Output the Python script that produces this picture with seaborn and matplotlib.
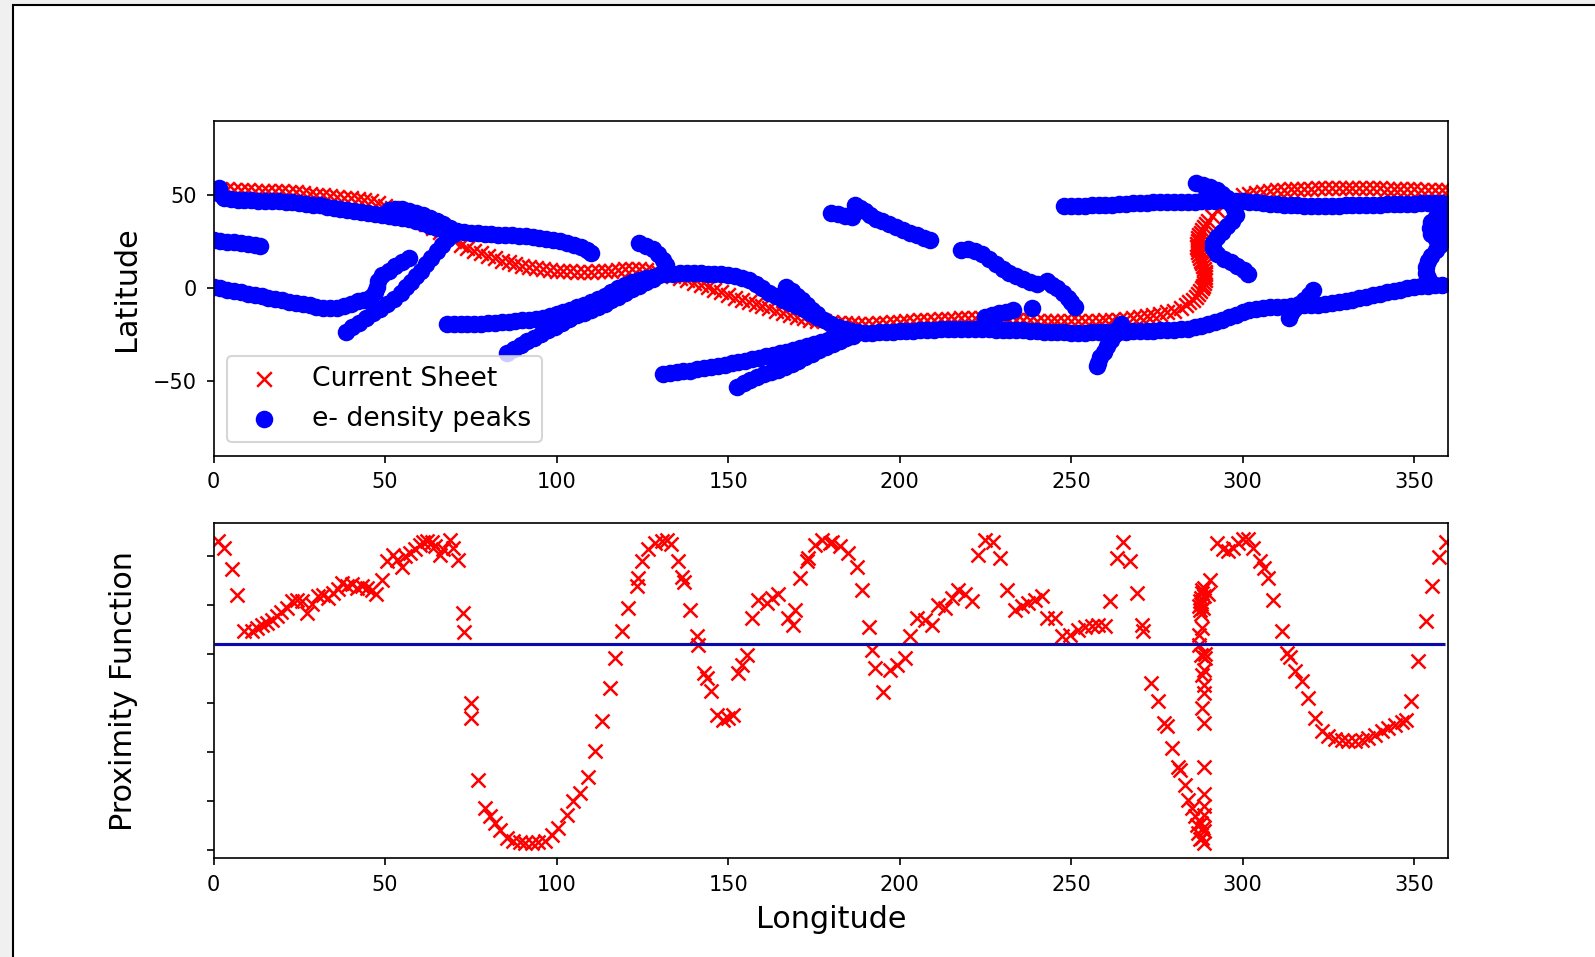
import matplotlib
matplotlib.use("Agg")
import matplotlib.pyplot as plt
from matplotlib.patches import Rectangle
import seaborn as sns
import pandas as pd

# current sheet (lon, lat)
current_sheet = [
    (0, 53), (2, 53.2), (4, 53.2), (6, 53), (8, 52.8), (10, 52.7), (12, 52.6), (14, 52.5), (16, 52.4), (18, 52.3),
    (20, 52.2), (22, 52), (24, 51.7), (26, 51.4), (28, 51), (30, 50.5), (32, 50), (34, 49.6), (36, 49.2), (38, 48.8),
    (40, 48.4), (42, 48), (44, 47.6), (46, 46.8), (48, 45.8), (50, 44.5), (52, 43), (54, 41.5), (56, 40), (58, 38.3),
    (60, 36.5), (62, 34.5), (64, 32.5), (66, 30.3), (68, 28), (70, 25.5), (72, 23.5), (74, 21.8), (76, 20.2), (78, 18.8),
    (80, 17.5), (82, 16.2), (84, 15), (86, 14), (88, 13), (90, 12.2), (92, 11.5), (94, 11), (96, 10.5), (98, 10),
    (100, 9.6), (102, 9.3), (104, 9.1), (106, 9), (108, 9), (110, 9), (112, 9.2), (114, 9.4), (116, 9.6), (118, 9.9),
    (120, 10.2), (122, 10.5), (124, 10.3), (126, 9.8), (128, 9.2), (130, 8.4), (132, 7.6), (134, 6.6), (136, 5.5), (138, 4.3),
    (140, 3), (142, 1.8), (144, 0.5), (146, -0.8), (148, -2.2), (150, -3.6), (152, -5), (154, -6.3), (156, -7.5), (158, -8.6),
    (160, -9.7), (162, -10.8), (164, -12), (166, -13.1), (168, -14.2), (170, -15.2), (172, -16), (174, -16.8), (176, -17.4), (178, -17.8),
    (180, -18.1), (182, -18.4), (184, -18.6), (186, -18.8), (188, -19), (190, -19), (192, -19), (194, -18.8), (196, -18.5), (198, -18.2),
    (200, -17.9), (202, -17.6), (204, -17.4), (206, -17.2), (208, -17), (210, -16.8), (212, -16.6), (214, -16.4), (216, -16.2), (218, -16),
    (220, -16), (222, -16), (224, -16), (226, -16.2), (228, -16.4), (230, -16.6), (232, -16.8), (234, -17), (236, -17.1), (238, -17.2),
    (240, -17.3), (242, -17.4), (244, -17.5), (246, -17.6), (248, -17.6), (250, -17.6), (252, -17.6), (254, -17.5), (256, -17.4), (258, -17.3),
    (260, -17.2), (262, -17), (264, -16.8), (266, -16.5), (268, -16.1), (270, -15.6), (272, -15), (274, -14.4), (276, -13.7), (278, -12.9),
    (280, -11.9), (282, -10.6),
    (283.5, -9), (284.5, -7.5), (285.5, -6), (286.3, -4.5), (287, -3), (287.6, -1.5), (288.1, 0), (288.5, 1.5), (288.8, 3),
    (289, 4.5), (289.1, 6), (289.1, 7.5), (289, 9), (288.8, 10.5), (288.5, 12), (288.2, 13.5), (287.8, 15), (287.5, 16.5),
    (287.2, 18), (287, 19.5), (286.9, 21), (286.8, 22.5), (286.8, 24), (286.9, 25.5), (287.1, 27), (287.4, 28.5), (287.8, 30),
    (288.3, 31.5), (288.8, 33), (289.4, 34.5), (290, 36), (291, 39), (292.5, 42), (294.5, 45), (297, 47.5),
    (300, 50), (302, 50.8), (304, 51.4), (306, 51.9), (308, 52.3), (310, 52.7), (312, 53), (314, 53.2), (316, 53.4), (318, 53.6),
    (320, 53.7), (322, 53.8), (324, 53.9), (326, 54), (328, 54), (330, 54), (332, 54), (334, 54), (336, 54), (338, 53.9),
    (340, 53.8), (342, 53.7), (344, 53.6), (346, 53.4), (348, 53.3), (350, 53.2), (352, 53.1), (354, 53), (356, 53), (358, 53), (360, 53),
]

# e- density peak tracks (lon, lat)
track_a = [(1.5, 54), (2, 51), (3, 48.5), (5, 48), (7, 47.8), (9, 47.6), (11, 47.4), (13, 47.2), (15, 47.1), (17, 47),
           (19, 47), (21, 46.6), (23, 46.2), (25, 45.8), (27, 45.4), (29, 45.1), (31, 44.6), (33, 44), (35, 43.4), (37, 42.8),
           (39, 42.2), (41, 41.6), (43, 41), (45, 40.5), (47, 40), (49, 39.6), (51, 39.2), (53, 38.6), (55, 38), (57, 37.2),
           (59, 36.2), (61, 35), (63, 33.8), (65, 32.6), (67, 31.7), (69, 31), (71, 30.6), (73, 30.3), (75, 30), (77, 29.7),
           (79, 29.4), (81, 29.1), (83, 28.9), (85, 28.7), (87, 28.5), (89, 28.3), (91, 28.1), (93, 27.8), (95, 27.3), (97, 26.7),
           (99, 26), (101, 25.3), (103, 24.5), (105, 23.5), (107, 22.3), (109, 20.5), (110, 19)]
track_b = [(0, 26), (2, 25.6), (4, 25.2), (6, 24.8), (8, 24.4), (10, 24), (12, 23.5), (13.5, 23)]
track_c = [(0, 1), (2, 0.2), (4, -0.6), (6, -1.4), (8, -2.2), (10, -2.9), (12, -3.6), (14, -4.3), (16, -5), (18, -5.7),
           (20, -6.4), (22, -7.1), (24, -7.8), (26, -8.5), (28, -9.2), (30, -9.8), (32, -10.4), (34, -10.8), (36, -10.4),
           (38, -9.4), (40, -8.2), (42, -7), (44, -6), (46, -4.5), (47, -2), (47.5, 1), (48, 4), (49, 7), (51, 9.5),
           (53, 12), (55, 14.2), (57, 16.2)]
track_d = [(38.5, -23.5), (40.5, -21), (42.5, -18.5), (44.5, -16), (46.5, -13.5), (48.5, -11), (50.5, -8.5), (52.5, -5.5),
           (54.5, -2.5), (56, 0.5), (57.5, 3.5), (59, 6.5), (60.5, 9.5), (62, 13), (63.5, 16.5), (65, 20), (66.5, 23.5),
           (68, 26.5), (70, 29)]
track_e = [(51, 42), (53, 42.5), (55, 42.5), (57, 41.8), (59, 40.8), (61, 39.5), (63, 38), (65, 36.3), (67, 34.5), (69, 32.5)]
track_f = [(68, -19), (70, -19), (72, -19), (74, -19), (76, -19), (78, -19), (80, -18.8), (82, -18.6), (84, -18.3), (86, -18),
           (88, -17.6), (90, -17.2), (92, -16.8), (94, -16.3), (96, -15.7), (98, -15), (100, -14), (102, -12.8), (104, -11.5),
           (106, -10.2), (108, -8.8), (110, -7.4), (112, -5.8), (114, -4), (116, -2), (118, 0), (120, 1.8), (122, 3.3),
           (124, 4.5), (126, 5.5), (128, 6.3), (130, 7), (132, 7.5), (134, 7.9), (136, 8.1), (138, 8.2), (140, 8.2),
           (142, 8.1), (144, 8), (146, 7.8), (148, 7.6), (150, 7.3), (152, 6.8), (154, 5.8), (156, 4.5), (158, 2.5),
           (160, 0), (162, -2.3), (164, -4.3), (166, -6), (168, -7.6), (170, -9.3), (172, -11.2), (174, -13.2), (176, -15.2),
           (178, -17.2), (180, -19), (182, -20.6), (184, -22), (186, -23), (188, -23.6), (190, -23.8), (192, -23.8),
           (194, -23.7), (196, -23.5), (198, -23.3), (200, -23.1), (202, -22.9), (204, -22.7), (206, -22.5), (208, -22.3),
           (210, -22.2), (212, -22.1), (214, -22), (216, -22), (218, -22), (220, -22), (222, -22), (224, -22), (226, -22.1),
           (228, -22.2), (230, -22.3), (232, -22.4), (234, -22.5), (236, -22.6), (238, -22.8), (240, -23), (242, -23.2),
           (244, -23.4), (246, -23.6), (248, -23.7), (250, -23.8), (252, -23.8), (254, -23.8), (256, -23.7), (258, -23.6),
           (260, -23.5), (262, -23.4), (264, -23.3), (266, -23.2), (268, -23.1), (270, -23), (272, -22.9), (274, -22.8),
           (276, -22.6), (278, -22.4), (280, -22.2), (282, -22), (284, -21.6), (286, -21), (288, -20.2), (290, -19.2),
           (292, -18.2), (294, -17), (296, -15.6), (298, -14.2), (300, -12.8), (302, -11.8), (304, -11), (306, -10.5),
           (308, -10.2), (310, -10), (312, -9.8), (314, -9.6), (316, -9.4), (318, -9.2), (320, -9), (322, -8.7), (324, -8.3),
           (326, -7.8), (328, -7.2), (330, -6.6), (332, -6), (334, -5.3), (336, -4.5), (338, -3.7), (340, -2.9), (342, -2.1),
           (344, -1.4), (346, -0.7), (348, 0), (350, 0.6), (352, 1.1), (354, 1.5), (356, 1.8), (358, 2)]
track_f2 = [(104, -16), (106, -14.5), (108, -13), (110, -11.5), (112, -10), (114, -8.5), (116, -6.5), (118, -4.5),
            (120, -2.5), (122, -0.5), (124, 1.5), (126, 3.5), (128, 5)]
track_g = [(131, -46), (133, -45.6), (135, -45.2), (137, -44.7), (139, -44.2), (141, -43.6), (143, -43), (145, -42.4),
           (147, -41.7), (149, -41), (151, -40.3), (153, -39.6), (155, -38.9), (157, -38.2), (159, -37.4), (161, -36.6),
           (163, -35.8), (165, -34.9), (167, -34), (169, -33), (171, -32), (173, -31), (175, -30), (177, -29), (179, -28),
           (181, -27), (183, -25.8), (185, -24.6), (187, -23.8)]
track_h = [(152.5, -53), (154.5, -51), (156.5, -49.2), (158.5, -47.6), (160.5, -46.2), (162.5, -45), (164.5, -43.8),
           (166.5, -42.3), (168.5, -40.6), (170.5, -38.8), (172.5, -37), (174.5, -35.2), (176.5, -33.3), (178.5, -31.5),
           (180.5, -29.8), (182.5, -28.2), (184.5, -26.8), (186.5, -25.6)]
track_i = [(85.5, -34.5), (87.5, -32.5), (89.5, -30.5), (91.5, -28.5), (93.5, -26.5), (95.5, -24.5), (97.5, -22.5),
           (99.5, -20.5), (101.5, -18.5), (103.5, -16.5)]
track_j = [(124, 24.4), (126, 23), (128, 21), (129.5, 18.5), (131, 15.5), (132, 12.5), (132.5, 9.5)]
track_k = [(180, 40.5), (182, 39.8), (184, 39), (186, 38.3), (187, 45), (188.5, 43.5), (190, 41.5), (191.5, 39.5),
           (193, 37.5), (195, 36), (197, 34.5), (199, 33), (201, 31.5), (203, 30), (205, 28.5), (207, 27), (209, 26)]
track_l = [(218, 20.5), (220, 21), (222, 20.2), (224, 18.5), (226, 16), (228, 13), (230, 10.5), (232, 8.5), (234, 6.8),
           (236, 5.2), (238, 3.6), (240, 2.2)]
track_l2 = [(243, 4), (244.5, 2), (246, 0), (247.5, -2.5), (249, -5), (250, -7.5), (251, -10)]
track_m = [(225, -15.5), (227, -14.5), (229, -13.5), (231, -12.6), (233, -11.8), (238.5, -10.5)]
track_n = [(248, 44.2), (250, 44.3), (252, 44.4), (254, 44.5), (256, 44.6), (258, 44.7), (260, 44.8), (262, 45),
           (264, 45.2), (266, 45.5), (268, 45.8), (270, 46), (272, 46.1), (274, 46.2), (276, 46.3), (278, 46.3),
           (280, 46.4), (282, 46.5), (284, 46.6), (286, 46.7), (288, 46.8), (290, 47), (292, 47.2), (294, 47.3),
           (296, 47.3), (298, 47.2), (300, 47), (302, 46.7), (304, 46.4), (306, 46), (308, 45.6), (310, 45.3),
           (312, 45), (314, 44.8), (316, 44.6), (318, 44.5), (320, 44.4), (322, 44.4), (324, 44.4), (326, 44.4),
           (328, 44.5), (330, 44.6), (332, 44.7), (334, 44.8), (336, 44.9), (338, 45), (340, 45.1), (342, 45.2),
           (344, 45.3), (346, 45.4), (348, 45.5), (350, 45.6), (352, 45.7), (354, 45.8), (356, 45.9), (358, 46)]
track_o = [(286.5, 56.5), (288.5, 55.5), (290.5, 54.5), (292.5, 53), (294, 51), (295.5, 48.5), (296.5, 45.5),
           (297.5, 42.5), (298, 39.5), (297, 36.5), (295.5, 33.5), (294, 30.5), (292.5, 27.5), (291.5, 24.5),
           (291.5, 21.5), (292.5, 18.5), (294.5, 16), (296.5, 14), (298.5, 12), (300.5, 10), (301.5, 8)]
track_p = [(358.5, 45), (358, 41.5), (356.5, 38.5), (355, 35.5), (354.5, 32.5), (355, 29.5), (356.5, 26.5),
           (357.5, 23.5), (356.5, 20.5), (355, 17.5), (354, 14.5), (353.5, 11.5), (353.5, 8.5), (354, 5.5), (354.5, 2.5),
           (359, 42), (359, 38), (359, 34), (358.5, 30), (358.5, 26)]
track_q = [(320.5, -1), (319.5, -3.5), (318, -6), (316.5, -8.5), (315, -11), (314, -13.5), (313.5, -16)]
track_r = [(264.5, -19), (263.5, -22), (262.5, -25), (261.5, -28), (260.5, -31), (259.5, -34), (258.5, -37),
           (257.8, -40), (257.5, -42)]
track_s = [(167, 1), (168.5, -1.5), (170, -4), (171.5, -6.5), (173, -9), (174.5, -11.5), (176, -14)]

peak_tracks = [track_a, track_b, track_c, track_d, track_e, track_f, track_f2, track_g, track_h, track_i,
               track_j, track_k, track_l, track_l2, track_m, track_n, track_o, track_p, track_q, track_r, track_s]

# proximity function (lon, value)
proximity = [
    (1.2, 6.32), (3.1, 6.16), (5.3, 5.73), (6.9, 5.20), (9.0, 4.47), (11.1, 4.47), (12.6, 4.53), (14.0, 4.59),
    (15.5, 4.64), (16.9, 4.70), (18.4, 4.77), (19.8, 4.87), (21.3, 4.94), (22.8, 5.08), (24.2, 5.11), (25.7, 5.08),
    (27.1, 4.84), (28.6, 5.02), (30.5, 5.18), (32.0, 5.20), (33.5, 5.15), (34.9, 5.25), (36.4, 5.34), (37.3, 5.45),
    (38.8, 5.39), (40.3, 5.43), (41.7, 5.35), (43.2, 5.39), (44.6, 5.35), (46.1, 5.32), (47.3, 5.23), (49.0, 5.52),
    (50.7, 5.90), (52.4, 6.03), (53.4, 5.93), (54.8, 5.79), (55.8, 6.00), (57.3, 6.07), (58.7, 6.14), (60.2, 6.24),
    (61.1, 6.29), (62.1, 6.32), (63.6, 6.29), (64.5, 6.20), (66.0, 6.03), (67.0, 6.14), (68.9, 6.34), (69.9, 6.16),
    (71.4, 5.93), (72.8, 4.84), (73.1, 4.45), (75.0, 3.00), (75.0, 2.69), (77.2, 1.43), (79.1, 0.85), (80.6, 0.68),
    (82.0, 0.55), (83.5, 0.41), (85.4, 0.24), (87.4, 0.18), (89.3, 0.16), (90.8, 0.14),
    (92.7, 0.14), (94.7, 0.16), (96.6, 0.18), (98.6, 0.31), (100.5, 0.44), (102.9, 0.72), (104.9, 0.99), (106.8, 1.16),
    (109.3, 1.48), (111.2, 2.01), (113.1, 2.63), (115.6, 3.31), (117.0, 3.92), (119.0, 4.48), (120.9, 4.94),
    (123.3, 5.39), (123.8, 5.56), (124.8, 5.91), (126.7, 6.14), (128.7, 6.27), (130.6, 6.32), (132.1, 6.34),
    (133.5, 6.25), (135.5, 5.91), (136.5, 5.57), (137.2, 5.47), (138.9, 4.91), (140.8, 4.36), (141.1, 4.19),
    (143.1, 3.61), (143.8, 3.51), (145.0, 3.25), (146.7, 2.76), (148.6, 2.66), (150.1, 2.69), (151.5, 2.76),
    (153.0, 3.61), (154.0, 3.78), (155.4, 3.99), (156.9, 4.74), (158.8, 5.11), (161.2, 5.04), (162.7, 5.15),
    (164.6, 5.22), (167.6, 4.74), (169.0, 4.60), (169.5, 4.91), (171.0, 5.56), (172.9, 5.90), (173.4, 5.97),
    (175.3, 6.24), (177.3, 6.34), (179.7, 6.27),
    (180.2, 6.29), (182.6, 6.20), (185.1, 6.07), (187.5, 5.79), (189.1, 5.30), (191.1, 4.55), (192.1, 4.09),
    (192.8, 3.72), (195.3, 3.23), (197.2, 3.68), (199.1, 3.78), (201.6, 3.91), (203.0, 4.36), (205.0, 4.74),
    (207.4, 4.70), (209.4, 4.59), (211.3, 5.01), (213.2, 4.94), (215.2, 5.15), (217.1, 5.32), (219.1, 5.22),
    (221.0, 5.08), (223.0, 6.02), (224.9, 6.34), (227.3, 6.29), (229.3, 5.97), (231.2, 5.30), (233.6, 4.91),
    (235.6, 4.98), (237.5, 5.04), (239.5, 5.11), (241.4, 5.18), (242.9, 4.74), (245.3, 4.74), (247.3, 4.36),
    (249.7, 4.40), (252.1, 4.50), (254.1, 4.55), (256.0, 4.57), (257.9, 4.59), (259.9, 4.57), (261.3, 5.08),
    (263.3, 5.97), (265.2, 6.29), (267.2, 5.90), (269.1, 5.25), (270.6, 4.60), (271.1, 4.47),
    (273.3, 3.41), (275.2, 3.05), (277.2, 2.59), (277.9, 2.52), (279.3, 2.08), (281.1, 1.70), (281.7, 1.64),
    (283.2, 1.33), (284.2, 1.02), (285.3, 0.85), (286.1, 0.68), (286.6, 0.51), (287.1, 0.34), (287.6, 0.21),
    (288.6, 0.14), (288.2, 0.25), (288.4, 0.45), (288.0, 0.55), (288.7, 0.90), (288.8, 0.38), (288.8, 0.72),
    (288.8, 1.13), (288.8, 1.70), (288.6, 2.59), (288.3, 2.90), (288.6, 3.20), (288.8, 3.37), (288.3, 3.58),
    (288.6, 3.68), (289.1, 3.92), (288.9, 4.00), (287.8, 3.99), (287.4, 4.19), (288.3, 4.53), (287.4, 4.40),
    (287.9, 4.81), (287.7, 4.90), (288.5, 4.95), (287.4, 4.98), (288.0, 5.02), (287.6, 5.08), (287.9, 5.15),
    (288.6, 5.18), (288.3, 5.25), (288.1, 5.30), (288.8, 5.35), (289.9, 5.22), (290.5, 5.52),
    (292.4, 6.27), (294.4, 6.14), (295.8, 6.10), (297.3, 6.17), (298.8, 6.27), (300.2, 6.36), (301.7, 6.36),
    (303.1, 6.16), (305.1, 5.90), (306.1, 5.76), (307.3, 5.56), (309.0, 5.11), (311.4, 4.48), (313.0, 4.02),
    (313.8, 3.95), (315.3, 3.65), (317.2, 3.44), (319.2, 3.10), (321.1, 2.69), (323.1, 2.42), (325.0, 2.32),
    (326.9, 2.27), (328.9, 2.25), (330.8, 2.23), (332.8, 2.22), (334.7, 2.25), (336.7, 2.28), (338.6, 2.35),
    (340.6, 2.42), (342.5, 2.49), (344.4, 2.56), (346.4, 2.61), (347.6, 2.66), (349.1, 3.05), (351.2, 3.85),
    (353.4, 4.67), (355.1, 5.39), (357.3, 5.98), (359.2, 6.29),
]
threshold = 4.21
threshold_lon = [0, 359]
prox_ticks = [0, 1, 2, 3, 4, 5, 6]
lon_ticks = [0, 50, 100, 150, 200, 250, 300, 350]

cs_df = pd.DataFrame(current_sheet, columns=["lon", "lat"])
peaks_df = pd.DataFrame([p for t in peak_tracks for p in t], columns=["lon", "lat"])
prox_df = pd.DataFrame(proximity, columns=["lon", "value"])

fig = plt.figure(figsize=(1595 / 150, 957 / 150), dpi=150, facecolor="#f0f0f0")
fig.patches.append(Rectangle((0.008, -0.1), 1.1, 1.0948, transform=fig.transFigure,
                             facecolor="white", edgecolor="black", lw=1.0, zorder=-1))

# top panel
ax1 = fig.add_axes([0.1339, 0.5238, 0.7742, 0.3497])
sns.scatterplot(data=cs_df, x="lon", y="lat", marker="x", s=49, color="red",
                linewidth=1.2, label="Current Sheet", ax=ax1)
sns.scatterplot(data=peaks_df, x="lon", y="lat", marker="o", s=55, color="blue",
                edgecolor="blue", linewidth=1.0, label="e- density peaks", ax=ax1)
ax1.set_xlim(0, 360)
ax1.set_ylim(-90, 90)
ax1.set_xticks(lon_ticks)
ax1.set_yticks([-50, 0, 50])
ax1.tick_params(labelsize=10, pad=4.5)
ax1.set_xlabel("")
ax1.set_ylabel("Latitude", fontsize=14.5)
ax1.yaxis.set_label_coords(-0.059, 0.5)
ax1.legend(loc="lower left", fontsize=12.8)

# bottom panel
ax2 = fig.add_axes([0.1339, 0.1034, 0.7742, 0.3501])
sns.scatterplot(data=prox_df, x="lon", y="value", marker="x", s=45, color="red",
                linewidth=1.2, legend=False, ax=ax2)
ax2.hlines(threshold, threshold_lon[0], threshold_lon[1], color="#0a0aa8", lw=1.5)
ax2.set_xlim(0, 360)
ax2.set_ylim(-0.17, 6.68)
ax2.set_xticks(lon_ticks)
ax2.set_yticks(prox_ticks)
ax2.set_yticklabels([])
ax2.tick_params(labelsize=10, pad=4.5)
ax2.set_xlabel("Longitude", fontsize=14.5, labelpad=5)
ax2.set_ylabel("Proximity Function", fontsize=14.5)
ax2.yaxis.set_label_coords(-0.0615, 0.5)

fig.savefig("out.png", dpi=150, facecolor=fig.get_facecolor())
